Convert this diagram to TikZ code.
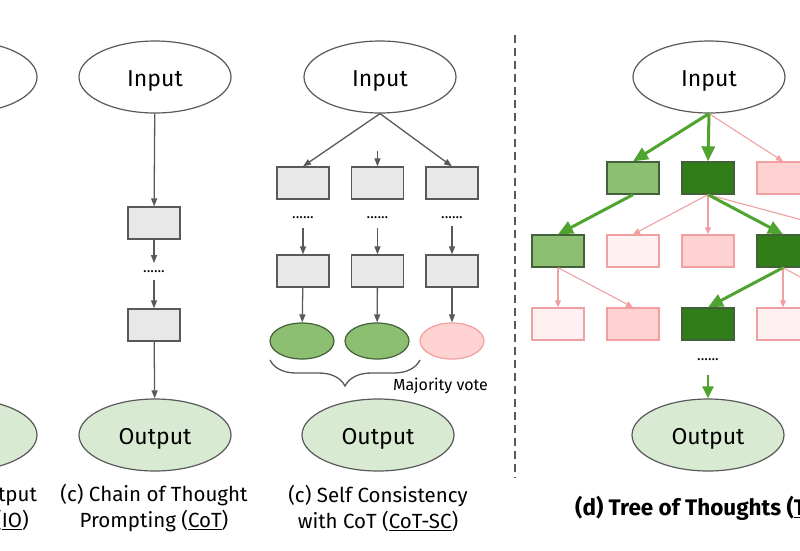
\documentclass[tikz,border=0pt]{standalone}
\usepackage{fontspec}
\setmainfont{Fira Sans}
\usetikzlibrary{arrows.meta,decorations.pathreplacing,shapes.geometric}
\definecolor{edge}{HTML}{595959}
\definecolor{boxfill}{HTML}{E8E8E8}
\definecolor{outfill}{HTML}{D9EAD3}
\definecolor{lgreen}{HTML}{8DBF72}
\definecolor{dgreen}{HTML}{317D18}
\definecolor{garrow}{HTML}{4FA32F}
\definecolor{pinkfill}{HTML}{FFD2D2}
\definecolor{palepink}{HTML}{FFF1F1}
\definecolor{pinkline}{HTML}{F0A0A0}
\definecolor{gborder}{HTML}{42603A}
\begin{document}
\begin{tikzpicture}[x=1pt,y=-1pt,
  oval/.style={ellipse, draw=edge, line width=1.2pt, minimum width=152pt, minimum height=72pt, inner sep=0pt, text height=19pt, text depth=0pt, font=\fontsize{23}{26}\selectfont},
  inoval/.style={oval, fill=white},
  outoval/.style={oval, fill=outfill},
  graybox/.style={rectangle, draw=edge, fill=boxfill, line width=1.3pt, minimum width=52pt, minimum height=32pt, inner sep=0pt},
  lgbox/.style={graybox, draw=gborder, fill=lgreen},
  dgbox/.style={graybox, draw=gborder, fill=dgreen},
  pkbox/.style={graybox, draw=pinkline, fill=pinkfill},
  ppbox/.style={graybox, draw=pinkline, fill=palepink},
  smalloval/.style={ellipse, line width=1.2pt, minimum width=64pt, minimum height=36pt, inner sep=0pt},
  gvote/.style={smalloval, draw=gborder, fill=lgreen},
  pvote/.style={smalloval, draw=pinkline, fill=pinkfill},
  dots/.style={inner sep=0pt, font=\fontsize{15}{15}\selectfont},
  caption/.style={align=center, inner sep=0pt, font=\fontsize{20.5}{26}\selectfont},
  garr/.style={draw=edge, line width=1.3pt, -{Triangle[length=8pt,width=6pt]}},
  grn/.style={draw=garrow, line width=3pt, -{Triangle[length=15pt,width=13pt]}},
  pnk/.style={draw=pinkline, line width=1.1pt, -{Triangle[length=7pt,width=6pt]}},
]
\useasboundingbox (0,0) rectangle (800,550);
\begin{scope}
\clip (0,0) rectangle (800,550);
% (a) IO (cropped)
\node[inoval] (ioin) at (-39,77) {Input};
\node[outoval] (ioout) at (-39,435) {Output};
\node[caption] (iocap) at (-39,508) {(a) Input-Output\\Prompting (\underline{IO})};
% (c) CoT
\node[inoval] (cotin) at (155,77) {Input};
\node[graybox] (cotb1) at (154,223) {};
\coordinate (cota) at (154,263);
\node[dots] (cotd) at (154,272) {......};
\coordinate (cotb) at (154,280);
\node[graybox] (cotb2) at (154,325) {};
\node[outoval] (cotout) at (155,435) {Output};
\draw[garr] (cotin) -- (cotb1);
\draw[garr] (cotb1) -- (cota);
\draw[garr] (cotb) -- (cotb2);
\draw[garr] (cotb2) -- (cotout);
\node[caption] (cotcap) at (154,508) {(c) Chain of Thought\\Prompting (\underline{CoT})};
% (c) CoT-SC
\node[inoval] (scin) at (380,77) {Input};
\node[graybox] (sa1) at (303,183) {};
\node[graybox] (sb1) at (377.5,183) {};
\node[graybox] (sc1) at (452,183) {};
\coordinate (sbtop) at (377.5,151);
\draw[garr] (scin.south) -- (sa1.north);
\draw[garr] (scin.south) -- (sc1.north);
\draw[garr] (sbtop) -- (sb1);
\node[dots] (sad) at (303,218) {......};
\node[dots] (sbd) at (377.5,218) {......};
\node[dots] (scd) at (452,218) {......};
\coordinate (saa) at (303,228);
\coordinate (sba) at (377.5,228);
\coordinate (sca) at (452,226);
\node[graybox] (sa2) at (303,271) {};
\node[graybox] (sb2) at (377.5,271) {};
\node[graybox] (sc2) at (452,271) {};
\draw[garr] (saa) -- (sa2);
\draw[garr] (sba) -- (sb2);
\draw[garr] (sca) -- (sc2);
\node[gvote] (va) at (302,341) {};
\node[gvote] (vb) at (377,341) {};
\node[pvote] (vc) at (452,341) {};
\draw[garr] (sa2) -- (va);
\draw[garr] (sb2) -- (vb);
\draw[garr] (sc2) -- (vc);
\coordinate (brl) at (270,360);
\coordinate (brr) at (420,360);
\draw[edge, line width=1.3pt, decorate, decoration={brace, mirror, amplitude=26pt, aspect=0.5}] (brl) -- (brr);
\node[inner sep=0pt, font=\fontsize{16}{16}\selectfont, anchor=west] (vote) at (393,386) {Majority vote};
\node[outoval] (scout) at (378,435) {Output};
\node[caption] (sccap) at (378,508) {(c) Self Consistency\\with CoT (\underline{CoT-SC})};
% separator
\coordinate (sept) at (515,35);
\coordinate (sepb) at (515,478);
\draw[edge, line width=2.6pt, dash pattern=on 8pt off 5pt] (sept) -- (sepb);
% (d) ToT
\node[inoval] (totin) at (709,77) {Input};
\node[lgbox] (t11) at (633,178) {};
\node[dgbox] (t12) at (708,178) {};
\node[pkbox] (t13) at (783,178) {};
\node[lgbox] (t21) at (558,251) {};
\node[ppbox] (t22) at (633,251) {};
\node[pkbox] (t23) at (708,251) {};
\node[dgbox] (t24) at (783,251) {};
\coordinate (t25) at (858,235);
\node[ppbox] (t31) at (558,324) {};
\node[pkbox] (t32) at (633,324) {};
\node[dgbox] (t33) at (708,324) {};
\node[ppbox] (t34) at (783,324) {};
\coordinate (t35) at (858,308);
\draw[pnk] (totin.south) -- (t13.north);
\draw[grn] (totin.south) -- (t11.north);
\draw[grn] (totin.south) -- (t12.north);
\draw[pnk] (t12.south) -- (t22.north);
\draw[pnk] (t12.south) -- (t23.north);
\draw[pnk] (t12.south) -- (t25);
\draw[grn] (t11.south) -- (t21.north);
\draw[grn] (t12.south) -- (t24.north);
\draw[pnk] (t21.south) -- (t31.north);
\draw[pnk] (t21.south) -- (t32.north);
\draw[pnk] (t24.south) -- (t34.north);
\draw[pnk] (t24.south) -- (t35);
\draw[grn] (t24.south) -- (t33.north);
\node[dots] (totd) at (708,360) {......};
\coordinate (tota) at (708,375);
\node[outoval] (totout) at (708,435) {Output};
\draw[grn, line width=2.2pt, -{Triangle[length=12pt,width=11pt]}] (tota) -- (totout);
\node[inner sep=0pt, anchor=west, font=\bfseries\fontsize{22.5}{26}\selectfont] (totcap) at (575,508) {(d) Tree of Thoughts (\underline{ToT})};
\end{scope}
\end{tikzpicture}
\end{document}
